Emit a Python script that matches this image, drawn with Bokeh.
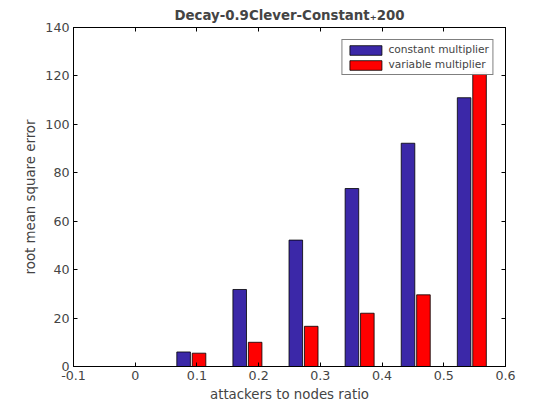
from bokeh.plotting import figure
from bokeh.models import LinearAxis, Legend, LegendItem, FixedTicker, Range1d
from bokeh.embed import file_html
from bokeh.resources import INLINE

ratios = [1 / 11, 2 / 11, 3 / 11, 4 / 11, 5 / 11, 6 / 11]
constant_mult = [6.0, 31.8, 52.2, 73.5, 92.2, 111.0]
variable_mult = [5.5, 10.0, 16.6, 22.0, 29.6, 121.5]
x_ticks = [-0.1, 0, 0.1, 0.2, 0.3, 0.4, 0.5, 0.6]
y_ticks = [0, 20, 40, 60, 80, 100, 120, 140]

off = 0.0125
w = 0.022

p = figure(width=544, height=404, output_backend="svg", toolbar_location=None,
           x_range=Range1d(-0.1, 0.6), y_range=Range1d(0, 140),
           min_border_left=73, min_border_right=39, min_border_top=27, min_border_bottom=29)
p.title.text = "Decay-0.9Clever-Constant\u208a200"
p.title.align = "center"
p.title.text_font = "DejaVu Sans"
p.title.text_font_size = "10pt"
p.title.text_font_style = "bold"

r1 = p.vbar(x=[x - off for x in ratios], top=constant_mult, width=w,
            fill_color="#3b28a8", line_color="black", line_width=0.8)
r2 = p.vbar(x=[x + off for x in ratios], top=variable_mult, width=w,
            fill_color="#ff0000", line_color="black", line_width=0.8)

p.xgrid.visible = False
p.ygrid.visible = False
p.outline_line_color = "black"

for ax, ticks in ((p.xaxis[0], x_ticks), (p.yaxis[0], y_ticks)):
    ax.ticker = FixedTicker(ticks=ticks)
    ax.major_tick_in = 4
    ax.major_tick_out = 0
    ax.minor_tick_line_color = None
    ax.major_label_text_font = "DejaVu Sans"
    ax.major_label_text_font_size = "9.5pt"
    ax.major_label_standoff = 4
    ax.axis_label_text_font = "DejaVu Sans"
    ax.axis_label_text_font_size = "10pt"
    ax.axis_label_text_font_style = "normal"
    ax.axis_label_standoff = 4
p.xaxis[0].axis_label = "attackers to nodes ratio"
p.yaxis[0].axis_label = "root mean square error"
p.xaxis[0].major_label_overrides = {-0.1: "-0.1", 0: "0"}

right = LinearAxis(ticker=FixedTicker(ticks=y_ticks), major_label_text_color=None,
                   major_label_text_font_size="6pt", major_label_standoff=0,
                   major_tick_in=4, major_tick_out=0, minor_tick_line_color=None)
top = LinearAxis(ticker=FixedTicker(ticks=x_ticks), major_label_text_color=None,
                 major_label_text_font_size="6pt", major_label_standoff=0,
                 major_tick_in=4, major_tick_out=0, minor_tick_line_color=None)
p.add_layout(right, "right")
p.add_layout(top, "above")

legend = Legend(items=[LegendItem(label="constant multiplier", renderers=[r1]),
                       LegendItem(label="variable multiplier", renderers=[r2])],
                location="top_right", label_text_font="DejaVu Sans",
                label_text_font_size="8pt", glyph_width=40, glyph_height=12,
                label_height=12, spacing=2, padding=3, margin=12,
                border_line_color="black", label_standoff=3)
p.add_layout(legend)

open("out.html", "w").write(file_html(p, INLINE))
